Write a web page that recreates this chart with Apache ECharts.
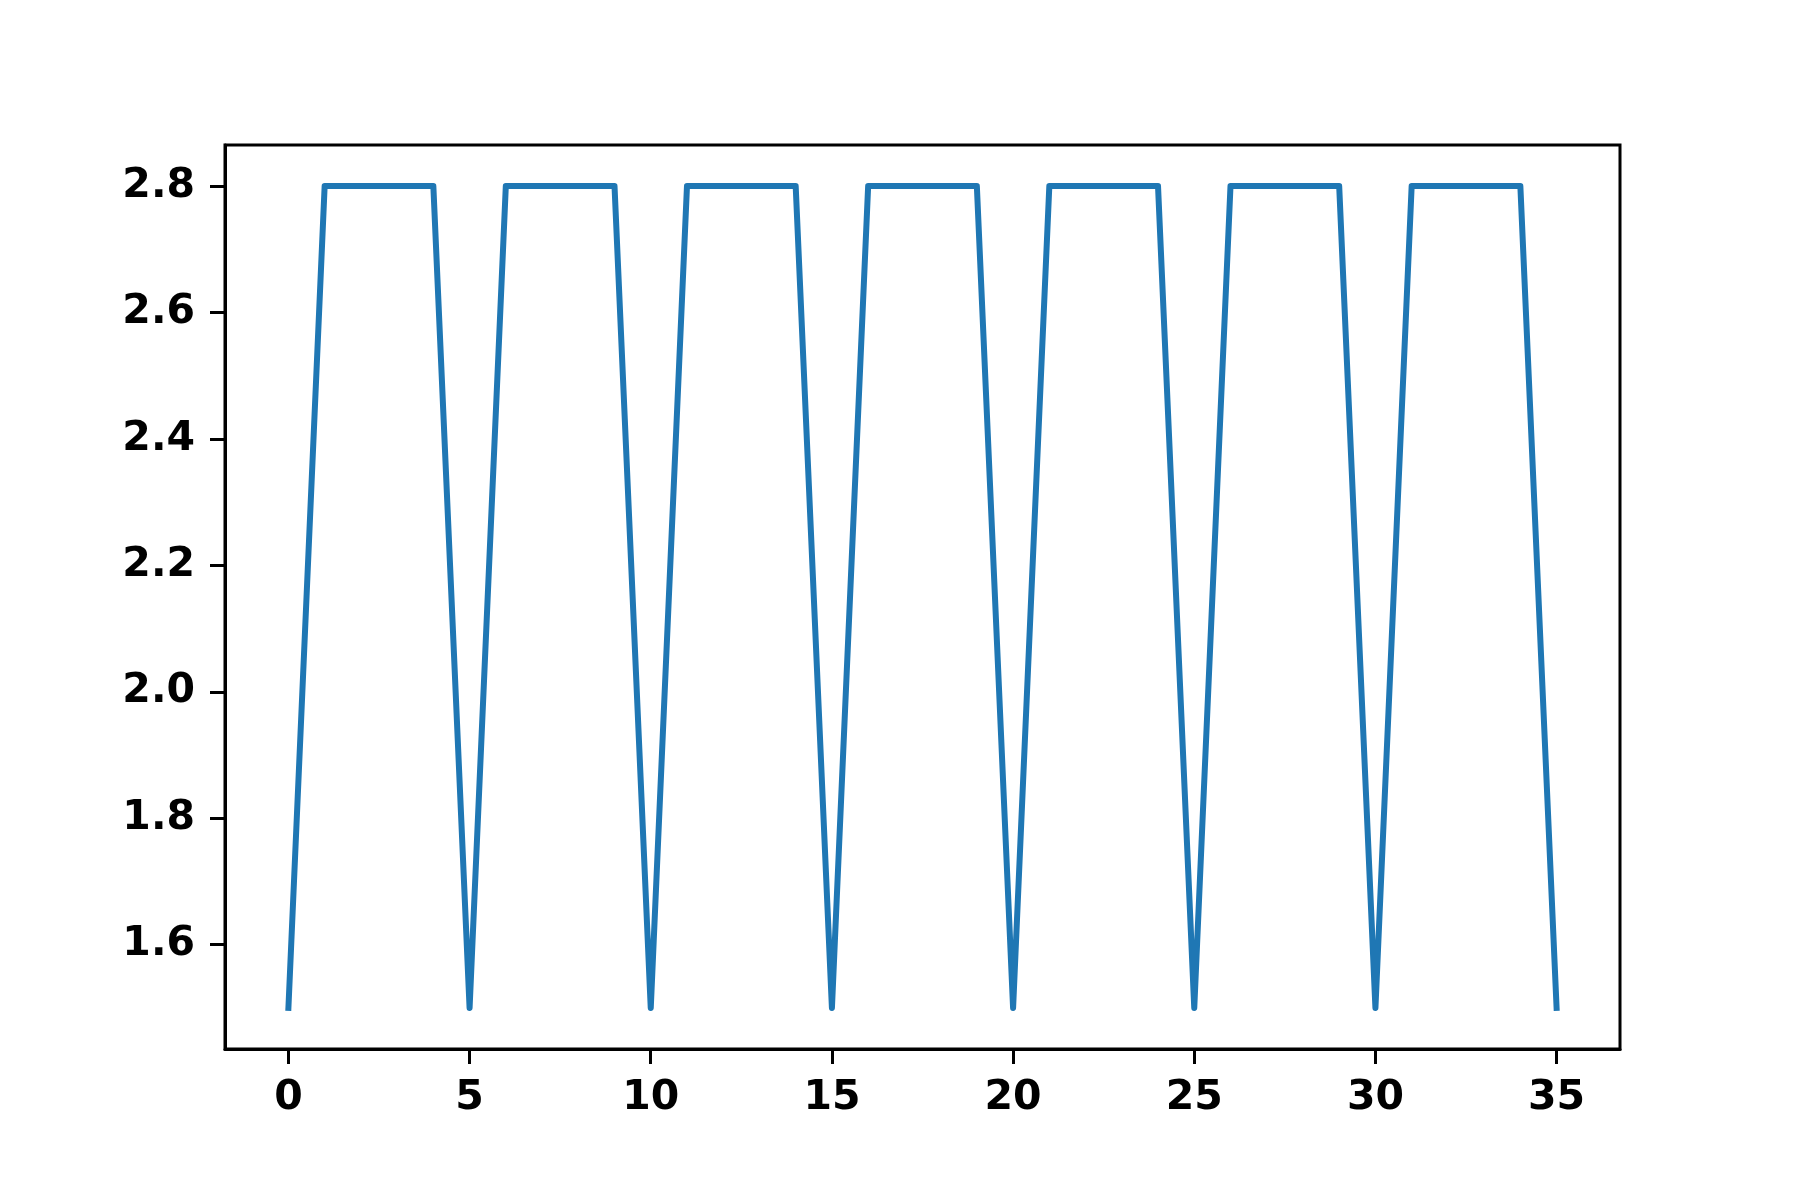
<!DOCTYPE html>
<html>
<head>
<meta charset="utf-8">
<script src="https://cdn.jsdelivr.net/npm/echarts@6/dist/echarts.min.js"></script>
<style>html,body{margin:0;padding:0;background:#fff}#c{width:1800px;height:1200px}</style>
</head>
<body>
<div id="c"></div>
<script>
const xValues = [0,1,2,3,4,5,6,7,8,9,10,11,12,13,14,15,16,17,18,19,20,21,22,23,24,25,26,27,28,29,30,31,32,33,34,35];
const yValues = [1.5,2.8,2.8,2.8,2.8,1.5,2.8,2.8,2.8,2.8,1.5,2.8,2.8,2.8,2.8,1.5,2.8,2.8,2.8,2.8,1.5,2.8,2.8,2.8,2.8,1.5,2.8,2.8,2.8,2.8,1.5,2.8,2.8,2.8,2.8,1.5];
const xTicks = [0,5,10,15,20,25,30,35];
const yTicks = [1.6,1.8,2.0,2.2,2.4,2.6,2.8];

const chart = echarts.init(document.getElementById('c'), null, {renderer:'canvas'});
const font = {fontFamily:'DejaVu Sans', fontWeight:'bold', fontSize:41, color:'#000'};
chart.setOption({
  animation:false,
  backgroundColor:'#fff',
  grid:{left:225, top:145, width:1395, height:904, show:true, borderColor:'#000', borderWidth:3, backgroundColor:'transparent'},
  xAxis:{type:'value', min:-1.75, max:36.75, splitLine:{show:false},
    axisLine:{show:true, onZero:false, lineStyle:{color:'#000', width:3}},
    axisTick:{show:true, length:15, lineStyle:{color:'#000', width:3}, customValues:xTicks},
    axisLabel:Object.assign({margin:29, customValues:xTicks, formatter:v=>String(v)}, font)},
  yAxis:{type:'value', min:1.435, max:2.865, splitLine:{show:false},
    axisLine:{show:true, onZero:false, lineStyle:{color:'#000', width:3}},
    axisTick:{show:true, length:15, lineStyle:{color:'#000', width:3}, customValues:yTicks},
    axisLabel:Object.assign({margin:30, customValues:yTicks, formatter:v=>v.toFixed(1)}, font)},
  series:[{type:'line', data:xValues.map((x,i)=>[x,yValues[i]]), showSymbol:false, symbol:'none',
    lineStyle:{color:'#1f77b4', width:6, join:'round', cap:'square'}}]
});
</script>
</body>
</html>
